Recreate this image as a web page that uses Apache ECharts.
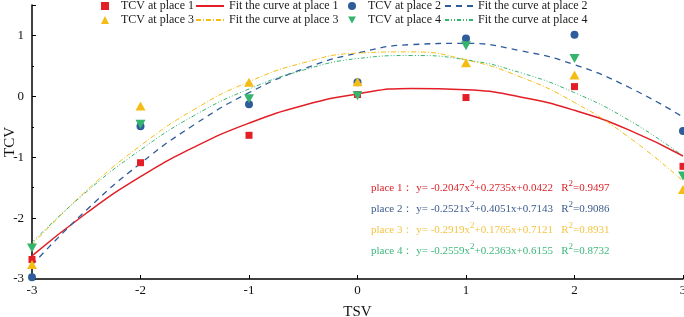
<!DOCTYPE html>
<html>
<head>
<meta charset="utf-8">
<script src="https://cdn.jsdelivr.net/npm/echarts@6/dist/echarts.min.js"></script>
<style>
  html, body { margin: 0; padding: 0; background: #fff; }
  #chart { width: 684px; height: 317px; }
</style>
</head>
<body>
<div id="chart"></div>
<script>
// measured TCV values per place at each TSV level
var tsv = [-3, -2, -1, 0, 1, 2, 3];
var tcv1 = [-2.68, -1.09, -0.64, 0.03, -0.02, 0.16, -1.15];
var tcv2 = [-2.97, -0.49, -0.13, 0.23, 0.95, 1.01, -0.57];
var tcv3 = [-2.76, -0.16, 0.23, 0.24, 0.55, 0.35, -1.53];
var tcv4 = [-2.49, -0.46, -0.04, 0.01, 0.83, 0.62, -1.31];

// fitted curves read along TSV (step 0.5)
var fitX = [-3, -2.5, -2, -1.5, -1, -0.5, 0, 0.5, 1, 1.5, 2, 2.5, 3];
var fit1 = [-2.62, -1.92, -1.32, -0.83, -0.44, -0.15, 0.04, 0.13, 0.11, -0.01, -0.23, -0.55, -0.98];
var fit2 = [-2.77, -1.87, -1.10, -0.46, 0.06, 0.45, 0.71, 0.85, 0.87, 0.75, 0.52, 0.15, -0.34];
var fit3 = [-2.44, -1.55, -0.81, -0.21, 0.24, 0.55, 0.71, 0.73, 0.60, 0.32, -0.10, -0.67, -1.39];
var fit4 = [-2.40, -1.57, -0.88, -0.31, 0.12, 0.43, 0.62, 0.67, 0.60, 0.39, 0.06, -0.39, -0.98];

var formulas = [
  ['place 1：', '-0.2047x', '+0.2735x+0.0422', '0.9497'],
  ['place 2：', '-0.2521x', '+0.4051x+0.7143', '0.9086'],
  ['place 3：', '-0.2919x', '+0.1765x+0.7121', '0.8931'],
  ['place 4：', '-0.2559x', '+0.2363x+0.6155', '0.8732']
];

var colors = ['#e31e26', '#2f5c9a', '#f5bd14', '#35b46e'];
var textColors = ['#d8232a', '#3b5b8c', '#f3c443', '#3db77b'];
var font = 'Liberation Serif';
var downTri = 'path://M0,0L10,0L5,9Z';

function pairs(xs, ys) {
  var out = [];
  for (var i = 0; i < xs.length; i++) out.push([xs[i], ys[i]]);
  return out;
}

var chart = echarts.init(document.getElementById('chart'));

var series = [
  { name: 'Fit the curve at place 1', type: 'line', smooth: true, symbol: 'none', data: pairs(fitX, fit1),
    lineStyle: { color: colors[0], width: 1.5 }, itemStyle: { color: colors[0] }, z: 2 },
  { name: 'Fit the curve at place 2', type: 'line', smooth: true, symbol: 'none', data: pairs(fitX, fit2),
    lineStyle: { color: colors[1], width: 1.3, type: [6, 5] }, itemStyle: { color: colors[1] }, z: 2 },
  { name: 'Fit the curve at place 3', type: 'line', smooth: true, symbol: 'none', data: pairs(fitX, fit3),
    lineStyle: { color: colors[2], width: 1, type: [5, 2, 1, 2] }, itemStyle: { color: colors[2] }, z: 2 },
  { name: 'Fit the curve at place 4', type: 'line', smooth: true, symbol: 'none', data: pairs(fitX, fit4),
    lineStyle: { color: colors[3], width: 1, type: [4, 2, 1, 2, 1, 2] }, itemStyle: { color: colors[3] }, z: 2 },
  { name: 'TCV at place 1', type: 'scatter', symbol: 'rect', symbolSize: 7, data: pairs(tsv, tcv1),
    itemStyle: { color: colors[0], opacity: 1 }, z: 5 },
  { name: 'TCV at place 2', type: 'scatter', symbol: 'circle', symbolSize: 8, data: pairs(tsv, tcv2),
    itemStyle: { color: colors[1], opacity: 1 }, z: 4 },
  { name: 'TCV at place 3', type: 'scatter', symbol: 'triangle', symbolSize: [10, 9], data: pairs(tsv, tcv3),
    itemStyle: { color: colors[2], opacity: 1 }, z: 5 },
  { name: 'TCV at place 4', type: 'scatter', symbol: downTri, symbolSize: [10, 9], data: pairs(tsv, tcv4),
    itemStyle: { color: colors[3], opacity: 1 }, z: 5 }
];

function legendCol(left, width, names, isLine) {
  var lg = {
    orient: 'vertical', left: left, top: 0, padding: 0,
    itemWidth: width, itemHeight: 8, itemGap: 2,
    textStyle: { fontFamily: font, fontSize: 12, color: '#1a1a1a' },
    data: names
  };
  if (isLine) {
    lg.itemStyle = { opacity: 0 };
  } else {
    lg.textStyle.padding = [0, 0, 0, 7];
  }
  return lg;
}

var graphics = [];
formulas.forEach(function (f, i) {
  var c = textColors[i];
  graphics.push({
    type: 'text', left: 371, top: 179 + i * 21,
    style: {
      text: '{t|' + f[0] + ' y= ' + f[1] + '}{s|2}{t|' + f[2] + '   R}{s|2}{t|=' + f[3] + '}',
      rich: {
        t: { fontFamily: font, fontSize: 11, fill: c, color: c, lineHeight: 15, verticalAlign: 'bottom' },
        s: { fontFamily: font, fontSize: 9, fill: c, color: c, lineHeight: 9, verticalAlign: 'top' }
      }
    }
  });
});

chart.setOption({
  animation: false,
  grid: { left: 32, right: 1, top: 5, bottom: 38, outerBoundsMode: 'none', containLabel: false },
  legend: [
    legendCol(101, 8, ['TCV at place 1', 'TCV at place 3'], false),
    legendCol(195, 28, ['Fit the curve at place 1', 'Fit the curve at place 3'], true),
    legendCol(348, 8, ['TCV at place 2', { name: 'TCV at place 4', icon: downTri }], false),
    legendCol(444, 28, ['Fit the curve at place 2', 'Fit the curve at place 4'], true)
  ],
  xAxis: {
    type: 'value', min: -3, max: 3, interval: 1,
    name: 'TSV', nameLocation: 'middle', nameGap: 26, nameMoveOverlap: false,
    nameTextStyle: { fontFamily: font, fontSize: 15, color: '#111' },
    axisLine: { onZero: false, lineStyle: { color: '#000', width: 1.5 } },
    axisTick: { inside: true, length: 4, lineStyle: { color: '#000' } },
    splitLine: { show: false },
    axisLabel: { fontFamily: font, fontSize: 13, color: '#111', margin: 5 }
  },
  yAxis: {
    type: 'value', min: -3, max: 1.5, interval: 1,
    name: 'TCV', nameLocation: 'middle', nameGap: 14, nameRotate: 90, nameMoveOverlap: false,
    nameTextStyle: { fontFamily: font, fontSize: 15, color: '#111' },
    axisLine: { show: true, onZero: false, lineStyle: { color: '#000', width: 1.5 } },
    axisTick: { inside: true, length: 4, lineStyle: { color: '#000' } },
    minorTick: { show: true, splitNumber: 2, length: 2, lineStyle: { color: '#000' } },
    splitLine: { show: false },
    axisLabel: { fontFamily: font, fontSize: 13, color: '#111', margin: 8, showMaxLabel: false }
  },
  graphic: graphics,
  series: series
});
</script>
</body>
</html>
